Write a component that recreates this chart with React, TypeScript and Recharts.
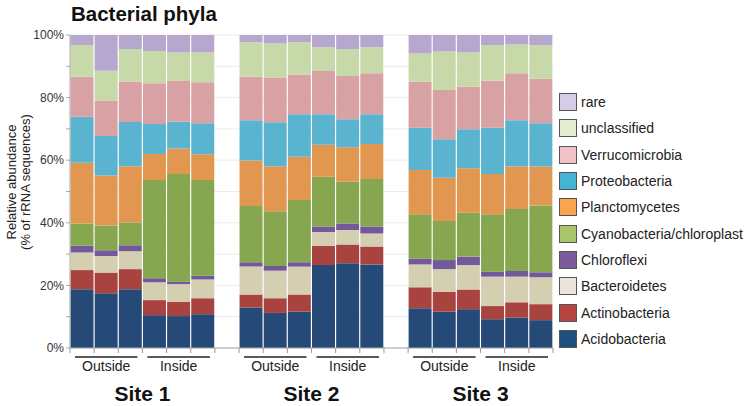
import { BarChart, Bar, XAxis, YAxis, CartesianGrid } from 'recharts';

// 3 sites x (3 outside + 3 inside) samples, values in % of rRNA sequences
const sites = ['Site 1', 'Site 2', 'Site 3'];
const groups = ['Outside', 'Inside'];

const acidobacteria = [18.8, 17.5, 18.8, 10.5, 10.2, 10.8, 12.9, 11.2, 11.6, 26.5, 27.1, 26.7, 12.7, 11.6, 12.4, 9.2, 9.7, 8.9];
const actinobacteria = [6.1, 6.6, 6.4, 4.8, 4.6, 5.1, 4.2, 4.7, 5.5, 6.1, 6.0, 5.7, 6.7, 6.4, 6.3, 4.2, 4.9, 5.1];
const bacteroidetes = [5.6, 5.3, 5.7, 5.7, 5.6, 6.0, 8.9, 8.8, 8.9, 4.5, 4.6, 4.2, 7.3, 7.2, 7.8, 9.4, 8.2, 8.6];
const chloroflexi = [2.2, 1.8, 1.9, 1.3, 0.8, 1.2, 1.4, 1.5, 1.4, 1.7, 2.1, 2.2, 1.9, 2.9, 2.7, 1.6, 1.8, 1.6];
const cyanobacteria = [7.1, 7.9, 7.3, 31.4, 34.4, 30.6, 18.0, 17.5, 19.9, 15.9, 13.3, 15.2, 14.1, 12.5, 14.0, 18.3, 19.8, 21.3];
const planctomycetes = [19.4, 16.0, 18.0, 8.3, 8.1, 8.2, 14.5, 14.4, 13.8, 10.2, 11.0, 11.2, 14.2, 13.8, 14.2, 12.9, 13.6, 12.5];
const proteobacteria = [14.7, 12.6, 14.1, 9.6, 8.6, 9.9, 12.9, 14.0, 13.6, 9.8, 9.0, 9.5, 13.5, 12.3, 12.5, 14.8, 14.8, 13.8];
const verrucomicrobia = [12.8, 11.4, 12.9, 13.0, 13.0, 13.1, 13.9, 14.3, 12.7, 13.8, 13.8, 13.1, 14.7, 15.7, 13.6, 15.0, 15.0, 14.2];
const unclassified = [10.1, 9.5, 10.4, 10.3, 9.1, 9.5, 11.0, 10.9, 10.3, 7.6, 8.6, 8.3, 9.0, 12.3, 10.9, 11.4, 9.2, 10.7];
const rare = [3.2, 11.4, 4.5, 5.1, 5.6, 5.6, 2.3, 2.7, 2.3, 3.9, 4.5, 3.9, 5.9, 5.3, 5.6, 3.2, 3.0, 3.7];

const yTicks = [0, 10, 20, 30, 40, 50, 60, 70, 80, 90, 100];

// bottom of the stack first
const series = [
  { key: 'Acidobacteria', values: acidobacteria, fill: '#264a77', swatch: '#1f4f7f' },
  { key: 'Actinobacteria', values: actinobacteria, fill: '#a9433f', swatch: '#b84440' },
  { key: 'Bacteroidetes', values: bacteroidetes, fill: '#d5cfb2', swatch: '#eae7da' },
  { key: 'Chloroflexi', values: chloroflexi, fill: '#74599a', swatch: '#7a5c9c' },
  { key: 'Cyanobacteria/chloroplast', values: cyanobacteria, fill: '#86a64f', swatch: '#a8c56c' },
  { key: 'Planctomycetes', values: planctomycetes, fill: '#e1974f', swatch: '#f8a550' },
  { key: 'Proteobacteria', values: proteobacteria, fill: '#5ab4cf', swatch: '#45b4d2' },
  { key: 'Verrucomicrobia', values: verrucomicrobia, fill: '#d8a1a4', swatch: '#f0c4c7' },
  { key: 'unclassified', values: unclassified, fill: '#c8d9a9', swatch: '#e4edd1' },
  { key: 'rare', values: rare, fill: '#b5a7cd', swatch: '#d5cce6' },
];

// one empty slot between sites
type Row = { slot: string; site: number; pos: number; [k: string]: any };
const rows: Row[] = [];
sites.forEach((s, si) => {
  if (si > 0) rows.push({ slot: `gap${si}`, site: -1, pos: -1 });
  for (let p = 0; p < 6; p++) {
    const r: Row = { slot: `${s}-${p}`, site: si, pos: p };
    series.forEach((ser) => {
      r[ser.key] = ser.values[si * 6 + p];
    });
    rows.push(r);
  }
});

const FONT = '"Liberation Sans", Arial, Helvetica, sans-serif';

function SlotTick(props: any) {
  const { x, y, payload, index } = props;
  const half = payload && payload.offset ? payload.offset : 12;
  const row = rows[index];
  const out: any[] = [
    <line key="t" x1={x - half} x2={x - half} y1={y} y2={y + 5} stroke="#9a9a9a" />,
  ];
  if (index === rows.length - 1) {
    out.push(<line key="t2" x1={x + half} x2={x + half} y1={y} y2={y + 5} stroke="#9a9a9a" />);
  }
  if (row && (row.pos === 1 || row.pos === 4)) {
    out.push(
      <line key="g" x1={x - 3 * half + 5} x2={x + 3 * half - 5} y1={y + 9} y2={y + 9} stroke="#222" strokeWidth={1.3} />,
      <text key="gt" x={x} y={y + 23} textAnchor="middle" fontSize={14} fill="#222">
        {groups[row.pos === 1 ? 0 : 1]}
      </text>
    );
  }
  if (row && row.pos === 3) {
    out.push(
      <text key="s" x={x - half} y={y + 53} textAnchor="middle" fontSize={21} fontWeight="bold" fill="#111">
        {sites[row.site]}
      </text>
    );
  }
  return <g>{out}</g>;
}

function PhylaLegend() {
  return (
    <div style={{ position: 'absolute', left: 559, top: 89 }}>
      {[...series].reverse().map((s) => (
        <div key={s.key} style={{ display: 'flex', alignItems: 'center', height: 26.3 }}>
          <div
            style={{
              width: 16,
              height: 16,
              background: s.swatch,
              border: '1.3px solid #555',
              marginRight: 4,
            }}
          />
          <span style={{ fontSize: 14, color: '#222' }}>{s.key}</span>
        </div>
      ))}
    </div>
  );
}

export default function App() {
  const cy = 182;
  return (
    <div style={{ position: 'absolute', left: 0, top: 0, width: 747, height: 406, background: '#fff', fontFamily: FONT }}>
      <BarChart
        width={747}
        height={406}
        data={rows}
        margin={{ top: 35, right: 194, left: 0, bottom: 0 }}
        barCategoryGap={0.5}
      >
        <CartesianGrid vertical={false} stroke="#ececec" />
        <XAxis
          dataKey="slot"
          height={58}
          interval={0}
          tickLine={false}
          tickSize={0}
          tickMargin={0}
          axisLine={{ stroke: '#a8a8a8' }}
          tick={<SlotTick />}
        />
        <YAxis
          width={70}
          domain={[0, 100]}
          ticks={yTicks}
          interval={0}
          allowDataOverflow
          tickSize={4}
          tickMargin={2}
          axisLine={{ stroke: '#a8a8a8' }}
          tickLine={{ stroke: '#a8a8a8' }}
          tick={{ fontSize: 12, fill: '#333' }}
          tickFormatter={(v: number) => (v % 20 === 0 ? `${v}%` : '')}
        />
        {series.map((s) => (
          <Bar key={s.key} dataKey={s.key} stackId="a" fill={s.fill} isAnimationActive={false} />
        ))}
      </BarChart>
      <svg width={747} height={406} style={{ position: 'absolute', left: 0, top: 0, pointerEvents: 'none' }}>
        <text x={71} y={21} fontSize={20.5} fontWeight="bold" fill="#111">
          Bacterial phyla
        </text>
        <g fontSize={13} fill="#222" textAnchor="middle">
          <text x={16} y={cy} transform={`rotate(-90, 16, ${cy})`}>
            Relative abundance
          </text>
          <text x={30} y={cy} transform={`rotate(-90, 30, ${cy})`}>
            (% of rRNA sequences)
          </text>
        </g>
      </svg>
      <PhylaLegend />
    </div>
  );
}
